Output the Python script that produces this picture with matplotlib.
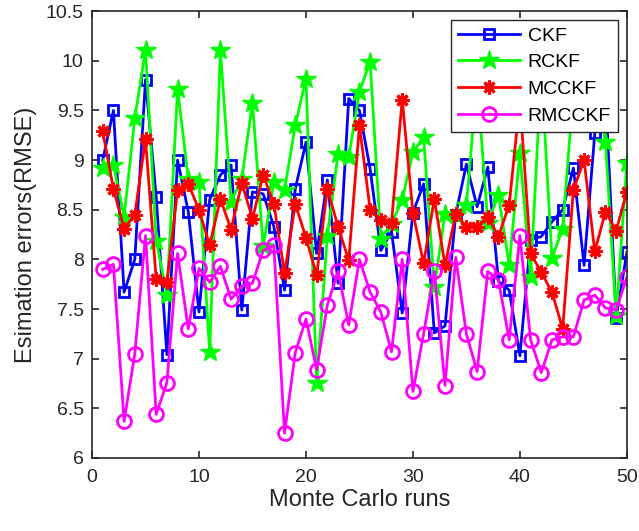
import matplotlib
matplotlib.use("Agg")
import matplotlib.pyplot as plt
from matplotlib.ticker import FuncFormatter

plt.rcParams['font.family'] = ['Liberation Sans', 'DejaVu Sans']

runs = list(range(1, 51))

ckf = [9.00, 9.50, 7.67, 8.00, 9.81, 8.63, 7.04, 9.00, 8.48, 7.47,
       8.60, 8.85, 8.95, 7.49, 8.68, 8.66, 8.33, 7.69, 8.71, 9.18,
       8.06, 8.80, 7.76, 9.62, 9.50, 8.91, 8.09, 8.28, 7.46, 8.47,
       8.76, 7.26, 7.33, 8.45, 8.96, 8.53, 8.93, 7.78, 7.69, 7.03,
       8.20, 8.23, 8.38, 8.50, 8.92, 7.94, 9.27, 9.70, 7.41, 8.07]

rckf = [8.92, 8.95, 8.43, 9.42, 10.11, 8.19, 7.64, 9.72, 8.81, 8.78,
        7.07, 10.11, 8.58, 8.81, 9.58, 8.13, 8.78, 8.70, 9.35, 9.82,
        6.76, 8.24, 9.06, 9.03, 9.69, 9.99, 8.21, 8.36, 8.60, 9.08,
        9.23, 7.72, 8.46, 8.45, 8.55, 9.80, 8.37, 8.65, 7.94, 9.07,
        7.82, 9.90, 8.01, 8.31, 9.70, 10.00, 9.80, 9.18, 7.43, 8.97]

mcckf = [9.29, 8.71, 8.31, 8.45, 9.21, 7.80, 7.77, 8.70, 8.76, 8.50,
         8.14, 8.61, 8.30, 8.77, 8.41, 8.85, 8.56, 7.86, 8.56, 8.22,
         7.84, 8.71, 8.33, 7.99, 9.35, 8.50, 8.40, 8.37, 9.61, 8.47,
         7.96, 8.61, 7.94, 8.46, 8.33, 8.33, 8.43, 8.23, 8.55, 9.60,
         8.06, 7.87, 7.67, 7.30, 8.70, 9.00, 8.08, 8.48, 8.29, 8.68]

rmcckf = [7.90, 7.95, 6.37, 7.05, 8.24, 6.44, 6.76, 8.06, 7.30, 7.91,
          7.77, 7.93, 7.60, 7.73, 7.76, 8.09, 8.14, 6.25, 7.06, 7.40,
          6.89, 7.54, 7.88, 7.34, 8.00, 7.67, 7.47, 7.07, 8.00, 6.67,
          7.25, 7.88, 6.73, 8.02, 7.25, 6.87, 7.88, 7.79, 7.19, 8.24,
          7.19, 6.86, 7.19, 7.22, 7.22, 7.59, 7.64, 7.51, 7.49, 7.82]

labels = ['CKF', 'RCKF', 'MCCKF', 'RMCCKF']
xticks = [0, 10, 20, 30, 40, 50]
yticks = [6, 6.5, 7, 7.5, 8, 8.5, 9, 9.5, 10, 10.5]

dark = (0.15, 0.15, 0.15)

fig = plt.figure(figsize=(6.39, 5.31), dpi=100)
ax = fig.add_axes([0.144, 0.1375, 0.837, 0.8415])

lw = 2.0
ax.plot(runs, ckf, color=(0, 0, 1), lw=lw, marker='s', markersize=7,
        markerfacecolor='none', markeredgewidth=2, label=labels[0])
ax.plot(runs, rckf, color=(0, 1, 0), lw=lw, marker='*', markersize=15,
        markerfacecolor=(0, 1, 0), markeredgewidth=1, label=labels[1])
ax.plot(runs, mcckf, color=(1, 0, 0), lw=lw, marker=(8, 2, 0), markersize=10,
        markeredgewidth=2.2, label=labels[2])
ax.plot(runs, rmcckf, color=(1, 0, 1), lw=lw, marker='o', markersize=10,
        markerfacecolor='none', markeredgewidth=2, label=labels[3])

ax.set_xlim(0, 50)
ax.set_ylim(6, 10.5)
ax.set_xticks(xticks)
ax.set_yticks(yticks)
ax.yaxis.set_major_formatter(FuncFormatter(lambda v, p: f"{v:g}"))
ax.tick_params(direction='in', top=True, right=True, labelsize=14,
               colors=dark, length=5, width=1.2)
ax.tick_params(axis='x', pad=8)
ax.tick_params(axis='y', pad=6)
for s in ax.spines.values():
    s.set_color(dark)
    s.set_linewidth(1.2)

ax.set_xlabel('Monte Carlo runs', fontsize=17, color=dark, labelpad=2)
ax.set_ylabel('Esimation errors(RMSE)', fontsize=17, color=dark, labelpad=6)

leg = ax.legend(loc='upper right', fontsize=14, frameon=True, fancybox=False,
                framealpha=1, edgecolor=dark, handlelength=3.2,
                borderpad=0.35, labelspacing=0.47, handletextpad=0.4,
                borderaxespad=0, bbox_to_anchor=(0.983, 0.98))
leg.get_frame().set_linewidth(1.0)
leg.set_zorder(10)

fig.savefig('out.png', dpi=100)
